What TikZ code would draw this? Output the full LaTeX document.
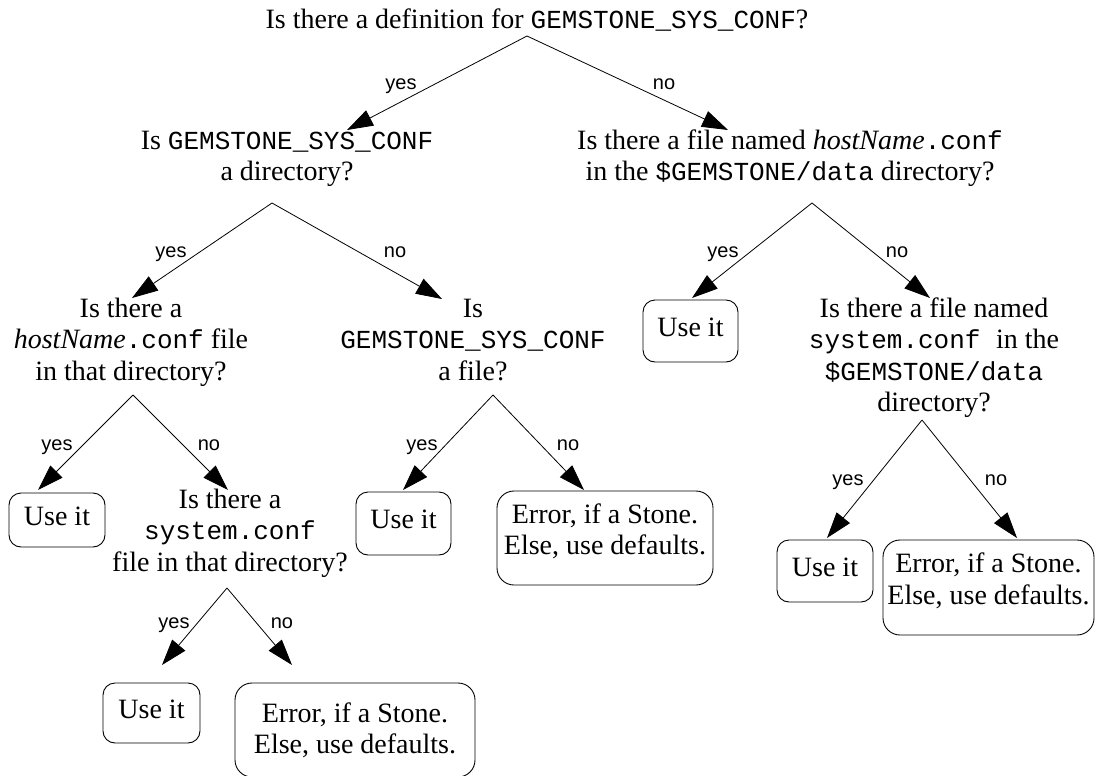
\documentclass[tikz,border=0pt]{standalone}
\usepackage{fontspec}
\setmainfont{Liberation Serif}
\setsansfont{Liberation Sans}
\setmonofont{Liberation Mono}
\usetikzlibrary{arrows.meta}
\newcommand\mt[1]{{\fontsize{26}{31.5}\selectfont\ttfamily #1}}
\newcommand\qlines[1]{\begin{tabular}[t]{@{}c@{}}#1\end{tabular}}
\tikzset{
  question/.style={inner sep=0pt, anchor=base, font=\fontsize{28}{31.5}\selectfont},
  useit/.style={draw, line width=0.9pt, rounded corners=12pt, inner sep=0pt,
    text height=19pt, text depth=9pt, font=\fontsize{28}{31.5}\selectfont},
  errbox/.style={draw, line width=0.9pt, rounded corners=17pt, inner sep=0pt,
    text height=19pt, text depth=49pt, font=\fontsize{28}{31.5}\selectfont},
  lbl/.style={inner sep=0pt, anchor=base, font=\sffamily\fontsize{20}{24}\selectfont},
  arr/.style={line width=0.8pt, -{Triangle[length=26pt,width=17pt]}},
}
\begin{document}
\begin{tikzpicture}[x=1pt,y=-1pt]
\useasboundingbox (0,0) rectangle (1095,776);

% question nodes
\node[question] (A) at (537,29) {Is there a definition for \mt{GEMSTONE\_SYS\_CONF}?};
\node[question] (B) at (287,149) {\qlines{Is \mt{GEMSTONE\_SYS\_CONF}\\a directory?}};
\node[question] (C) at (790,149) {\qlines{Is there a file named \textit{hostName}\mt{.conf}\\in the \mt{\$GEMSTONE/data} directory?}};
\node[question] (E) at (131,317) {\qlines{Is there a\\\textit{hostName}\mt{.conf} file\\in that directory?}};
\node[question] (G) at (473,317) {\qlines{Is\\\mt{GEMSTONE\_SYS\_CONF}\\a file?}};
\node[question] (D) at (934,317) {\qlines{Is there a file named\\\mt{system.conf\ }in the\\\mt{\$GEMSTONE/data}\\directory?}};
\node[question] (F) at (230,508) {\qlines{Is there a\\\mt{system.conf}\\file in that directory?}};

% answer boxes
\node[useit, minimum width=95pt, minimum height=62pt] (U1) at (690.5,331) {Use it};
\node[useit, minimum width=96pt, minimum height=54pt] (U2) at (57,520) {Use it};
\node[useit, minimum width=95pt, minimum height=63pt] (U3) at (403.5,523.5) {Use it};
\node[useit, minimum width=96pt, minimum height=62pt] (U4) at (825,571) {Use it};
\node[useit, minimum width=97pt, minimum height=60pt] (U5) at (151.5,713) {Use it};
\node[errbox, minimum width=216pt, minimum height=94pt] (E1) at (605,538) {\qlines{Error, if a Stone.\\Else, use defaults.}};
\node[errbox, minimum width=211pt, minimum height=95pt] (E2) at (988.5,587.5) {\qlines{Error, if a Stone.\\Else, use defaults.}};
\node[errbox, text depth=35pt, minimum width=240pt, minimum height=94pt] (E3) at (355,730) {\qlines{Error, if a Stone.\\Else, use defaults.}};

% branch points and arrow ends
\coordinate (A-o) at (527,36);
\coordinate (B-i) at (347,130);
\coordinate (C-i) at (728,130);
\coordinate (B-o) at (272,203);
\coordinate (E-i) at (132,298);
\coordinate (G-i) at (442,299);
\coordinate (C-o) at (812,203);
\coordinate (U1-i) at (692,298);
\coordinate (D-i) at (930,298);
\coordinate (E-o) at (133,395);
\coordinate (U2-i) at (38,490);
\coordinate (F-i) at (228,490);
\coordinate (G-o) at (493,395);
\coordinate (U3-i) at (403,490);
\coordinate (E1-i) at (584,490);
\coordinate (D-o) at (922,420);
\coordinate (U4-i) at (827,538);
\coordinate (E2-i) at (1017,538);
\coordinate (F-o) at (227,588);
\coordinate (U5-i) at (162,665);
\coordinate (E3-i) at (292,665);

\draw[arr] (A-o) -- (B-i);
\draw[arr] (A-o) -- (C-i);
\draw[arr] (B-o) -- (E-i);
\draw[arr] (B-o) -- (G-i);
\draw[arr] (C-o) -- (U1-i);
\draw[arr] (C-o) -- (D-i);
\draw[arr] (E-o) -- (U2-i);
\draw[arr] (E-o) -- (F-i);
\draw[arr] (G-o) -- (U3-i);
\draw[arr] (G-o) -- (E1-i);
\draw[arr] (D-o) -- (U4-i);
\draw[arr] (D-o) -- (E2-i);
\draw[arr] (F-o) -- (U5-i);
\draw[arr] (F-o) -- (E3-i);

% labels
\node[lbl] (lA1) at (401,89) {yes};
\node[lbl] (lA2) at (664,89) {no};
\node[lbl] (lB1) at (171,257) {yes};
\node[lbl] (lB2) at (395,257) {no};
\node[lbl] (lC1) at (723,257) {yes};
\node[lbl] (lC2) at (897,257) {no};
\node[lbl] (lE1) at (57,450) {yes};
\node[lbl] (lE2) at (209,450) {no};
\node[lbl] (lG1) at (422,450) {yes};
\node[lbl] (lG2) at (568,450) {no};
\node[lbl] (lD1) at (848,485) {yes};
\node[lbl] (lD2) at (996,485) {no};
\node[lbl] (lF1) at (174,628) {yes};
\node[lbl] (lF2) at (282,628) {no};
\end{tikzpicture}
\end{document}
